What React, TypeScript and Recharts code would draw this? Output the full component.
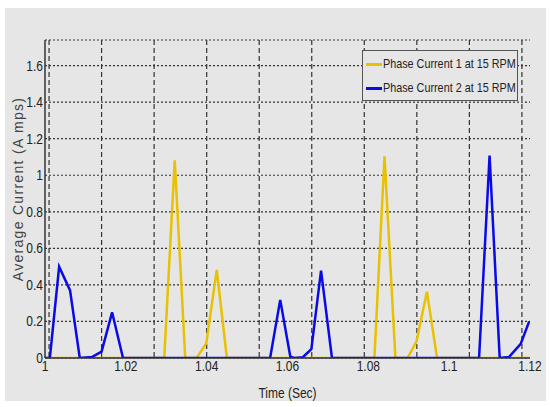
import { LineChart, Line, XAxis, YAxis, CartesianGrid } from "recharts";

// phase current 1 (yellow)
const P1_TIME = [
  1.0, 1.0295, 1.0321, 1.0347, 1.0375, 1.0399, 1.0425, 1.045, 1.0465, 1.0815,
  1.084, 1.0867, 1.0897, 1.0919, 1.0945, 1.097, 1.0984, 1.12,
];
const P1_AMPS = [
  0, 0, 1.081, 0, 0, 0.08, 0.482, 0, 0, 0, 1.103, 0, 0, 0.09, 0.363, 0, 0, 0,
];

// phase current 2 (blue)
const P2_TIME = [
  1.0, 1.0012, 1.0035, 1.0062, 1.0086, 1.0116, 1.014, 1.0166, 1.0193, 1.0557,
  1.0582, 1.0607, 1.0617, 1.0638, 1.0659, 1.0683, 1.071, 1.1074, 1.11, 1.1125,
  1.1148, 1.1177, 1.1198,
];
const P2_AMPS = [
  0, 0, 0.5, 0.37, 0, 0.005, 0.035, 0.25, 0, 0, 0.318, 0.007, 0, 0.004, 0.048,
  0.478, 0, 0, 1.107, 0, 0.005, 0.077, 0.2,
];

const X_TICKS = [1, 1.02, 1.04, 1.06, 1.08, 1.1, 1.12];
const Y_TICKS = [0, 0.2, 0.4, 0.6, 0.8, 1, 1.2, 1.4, 1.6];
// the dashed vertical grid does not sit on the labelled ticks
const GRID_X = [
  1.001, 1.014, 1.027, 1.04, 1.053, 1.066, 1.079, 1.092, 1.105, 1.118,
];

const SERIES = [
  { name: "Phase Current 1 at 15 RPM", color: "#e8c200" },
  { name: "Phase Current 2 at 15 RPM", color: "#0a0ae6" },
];

const p1 = P1_TIME.map((t, i) => ({ t, v: P1_AMPS[i] }));
const p2 = P2_TIME.map((t, i) => ({ t, v: P2_AMPS[i] }));

const FONT = '"Liberation Sans", Arial, sans-serif';
const INK = "#222";
const SQUEEZE = 0.8;

function XTick({ x, y, payload }: any) {
  return (
    <text
      transform={`translate(${x} ${y + 13}) scale(${SQUEEZE} 1)`}
      textAnchor="middle"
      fontFamily={FONT}
      fontSize={15}
      fill={INK}
    >
      {String(payload.value)}
    </text>
  );
}

function YTick({ x, y, payload }: any) {
  return (
    <text
      transform={`translate(${x} ${y + 5}) scale(${SQUEEZE} 1)`}
      textAnchor="end"
      fontFamily={FONT}
      fontSize={15}
      fill={INK}
    >
      {String(payload.value)}
    </text>
  );
}

function XLabel({ viewBox }: any) {
  const cx = viewBox.x + viewBox.width / 2;
  const cy = 398;
  return (
    <text
      transform={`translate(${cx} ${cy}) scale(${SQUEEZE} 1)`}
      textAnchor="middle"
      fontFamily={FONT}
      fontSize={15}
      fill={INK}
    >
      Time (Sec)
    </text>
  );
}

function YLabel({ viewBox }: any) {
  const cx = 19;
  const cy = viewBox.y + viewBox.height / 2 - 10;
  return (
    <text
      x={cx}
      y={cy}
      transform={`rotate(-90 ${cx} ${cy})`}
      textAnchor="middle"
      dominantBaseline="middle"
      fontFamily={FONT}
      fontSize={14}
      letterSpacing={1.3}
      fill="#444"
    >
      Average Current (A mps)
    </text>
  );
}

function LegendBox() {
  return (
    <div
      style={{
        position: "absolute",
        left: 362,
        top: 50,
        width: 156,
        height: 51,
        boxSizing: "border-box",
        border: "1px solid #555",
        background: "#e6e6e6",
        fontFamily: FONT,
        fontSize: 13.5,
        color: INK,
        lineHeight: "24px",
        paddingTop: 1,
        paddingLeft: 3,
        whiteSpace: "nowrap",
        overflow: "hidden",
      }}
    >
      {SERIES.map((s) => (
        <div key={s.name} style={{ display: "flex", alignItems: "center" }}>
          <span
            style={{
              flex: "0 0 16px",
              width: 16,
              height: 3,
              background: s.color,
              marginRight: 1,
            }}
          />
          <span
            style={{
              display: "inline-block",
              transform: `scaleX(${SQUEEZE})`,
              transformOrigin: "left center",
            }}
          >
            {s.name}
          </span>
        </div>
      ))}
    </div>
  );
}

export default function App() {
  return (
    <div
      style={{
        position: "absolute",
        left: 0,
        top: 0,
        width: 550,
        height: 407,
        background: "#fff",
      }}
    >
      <div
        style={{
          position: "absolute",
          left: 5,
          top: 8,
          width: 541,
          height: 393,
          background: "#e6e6e6",
        }}
      />
      <div style={{ position: "absolute", left: 0, top: 0 }}>
        <LineChart
          width={550}
          height={407}
          margin={{ top: 40, right: 20, bottom: 0, left: 0 }}
        >
          <CartesianGrid
            vertical={false}
            stroke="#333"
            strokeDasharray="2 2"
            strokeWidth={1.2}
          />
          <CartesianGrid
            horizontal={false}
            verticalValues={GRID_X}
            stroke="#333"
            strokeDasharray="5 3"
            strokeWidth={1.2}
          />
          <XAxis
            xAxisId="marks"
            type="number"
            dataKey="t"
            domain={[1, 1.12]}
            ticks={GRID_X}
            orientation="bottom"
            mirror
            height={0}
            tick={false}
            tickSize={5}
            axisLine={false}
            stroke="#333"
            allowDataOverflow
          />
          <XAxis
            type="number"
            dataKey="t"
            domain={[1, 1.12]}
            ticks={X_TICKS}
            interval={0}
            height={49}
            tickSize={0}
            tickMargin={0}
            tickLine={false}
            axisLine={{ stroke: "#333", strokeWidth: 1.5 }}
            tick={<XTick />}
            allowDataOverflow
            label={<XLabel />}
          />
          <XAxis
            xAxisId="top"
            type="number"
            dataKey="t"
            domain={[1, 1.12]}
            ticks={GRID_X}
            orientation="top"
            mirror
            height={0}
            tick={false}
            tickSize={8}
            axisLine={{ stroke: "#333", strokeWidth: 1.5 }}
            stroke="#333"
            allowDataOverflow
          />
          <YAxis
            type="number"
            domain={[0, 1.74]}
            ticks={Y_TICKS}
            interval={0}
            width={45}
            tickSize={0}
            tickMargin={2}
            tickLine={false}
            axisLine={{ stroke: "#333", strokeWidth: 1.5 }}
            tick={<YTick />}
            allowDataOverflow
            label={<YLabel />}
          />
          <YAxis
            yAxisId="right"
            type="number"
            orientation="right"
            domain={[0, 1.74]}
            ticks={Y_TICKS}
            mirror
            width={0}
            tick={false}
            tickSize={6}
            axisLine={{ stroke: "#333", strokeWidth: 1.5 }}
            stroke="#333"
            allowDataOverflow
          />
          <Line
            data={p1}
            dataKey="v"
            name={SERIES[0].name}
            type="linear"
            stroke={SERIES[0].color}
            strokeWidth={2.5}
            dot={false}
            isAnimationActive={false}
          />
          <Line
            data={p2}
            dataKey="v"
            name={SERIES[1].name}
            type="linear"
            stroke={SERIES[1].color}
            strokeWidth={2.5}
            dot={false}
            isAnimationActive={false}
          />
        </LineChart>
      </div>
      <LegendBox />
    </div>
  );
}
